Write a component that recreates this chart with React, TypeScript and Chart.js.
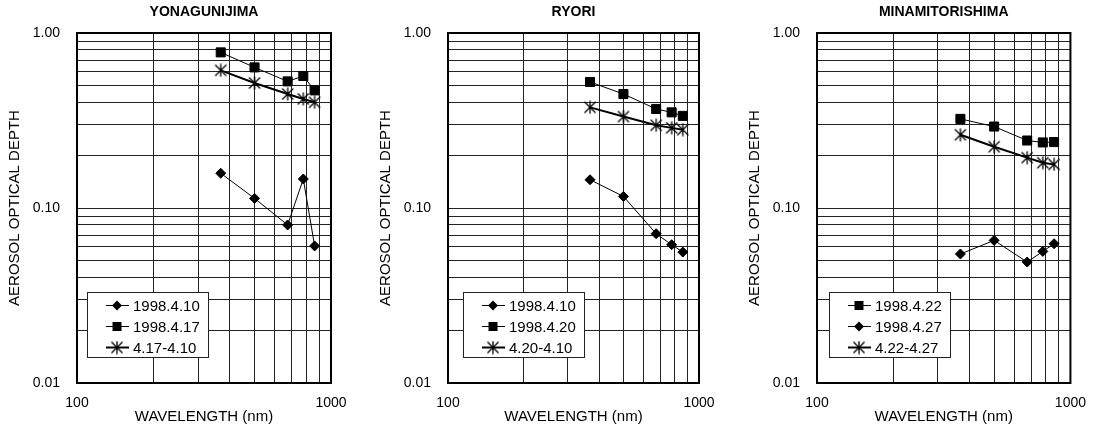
import React, { useEffect, useRef } from 'react';
import { Chart, registerables } from 'chart.js';
Chart.register(...registerables);

// ---- data ----
const wavelengths = [368, 500, 675, 778, 862];

const yonaguniTitle = 'YONAGUNIJIMA';
const yonaguni_0410 = [0.158, 0.1135, 0.08, 0.1465, 0.0607];
const yonaguni_0417 = [0.775, 0.636, 0.529, 0.568, 0.47];
const yonaguni_diff = [0.612, 0.518, 0.448, 0.42, 0.402];

const ryoriTitle = 'RYORI';
const ryori_0410 = [0.145, 0.1165, 0.0713, 0.0617, 0.056];
const ryori_0420 = [0.525, 0.448, 0.368, 0.352, 0.336];
const ryori_diff = [0.376, 0.333, 0.297, 0.287, 0.28];

const minamiTitle = 'MINAMITORISHIMA';
const minami_0422 = [0.323, 0.292, 0.243, 0.237, 0.238];
const minami_0427 = [0.0546, 0.0653, 0.0491, 0.0565, 0.0625];
const minami_diff = [0.262, 0.224, 0.194, 0.1815, 0.1775];

const xTickValues = [100, 200, 300, 400, 500, 600, 700, 800, 900, 1000];
const xTickLabels = ['100', '1000'];
const yTickValues = [
  0.01, 0.02, 0.03, 0.04, 0.05, 0.06, 0.07, 0.08, 0.09,
  0.1, 0.2, 0.3, 0.4, 0.5, 0.6, 0.7, 0.8, 0.9, 1,
];
const yTickLabels = ['0.01', '0.10', '1.00'];

const xTitle = 'WAVELENGTH (nm)';
const yTitle = 'AEROSOL OPTICAL DEPTH';

const FONT = '"Liberation Sans", Arial, sans-serif';

type Kind = 'diamond' | 'square' | 'star';
interface Series { label: string; values: number[]; kind: Kind }
interface PanelCfg {
  title: string;
  series: Series[];
  left: number;
  width: number;
  rightPad: number;
  legendOffset: number;
}

const panels: PanelCfg[] = [
  {
    title: yonaguniTitle,
    series: [
      { label: '1998.4.10', values: yonaguni_0410, kind: 'diamond' },
      { label: '1998.4.17', values: yonaguni_0417, kind: 'square' },
      { label: '4.17-4.10', values: yonaguni_diff, kind: 'star' },
    ],
    left: 0, width: 366, rightPad: 35, legendOffset: 10,
  },
  {
    title: ryoriTitle,
    series: [
      { label: '1998.4.10', values: ryori_0410, kind: 'diamond' },
      { label: '1998.4.20', values: ryori_0420, kind: 'square' },
      { label: '4.20-4.10', values: ryori_diff, kind: 'star' },
    ],
    left: 371, width: 366, rightPad: 38, legendOffset: 15,
  },
  {
    title: minamiTitle,
    series: [
      { label: '1998.4.22', values: minami_0422, kind: 'square' },
      { label: '1998.4.27', values: minami_0427, kind: 'diamond' },
      { label: '4.22-4.27', values: minami_diff, kind: 'star' },
    ],
    left: 740, width: 358, rightPad: 27, legendOffset: 12,
  },
];

function makeStar(size: number, lw: number): HTMLCanvasElement {
  const c = document.createElement('canvas');
  c.width = size;
  c.height = size;
  const g = c.getContext('2d')!;
  g.strokeStyle = '#000';
  g.lineWidth = lw;
  const m = size / 2;
  const r = size / 2 - 0.5;
  const d = r * 0.85;
  g.beginPath();
  g.moveTo(m, m - r);
  g.lineTo(m, m + r);
  g.moveTo(m - d, m - d);
  g.lineTo(m + d, m + d);
  g.moveTo(m + d, m - d);
  g.lineTo(m - d, m + d);
  g.stroke();
  return c;
}

const isDecade = (v: number) => {
  const e = Math.log10(v);
  return Math.abs(e - Math.round(e)) < 1e-6;
};

const framePlugin = {
  id: 'panelFrame',
  afterDraw(chart: any, _args: any, opts: any) {
    const { ctx, chartArea: ca } = chart;
    ctx.save();
    ctx.strokeStyle = '#000';
    ctx.lineWidth = 2;
    ctx.strokeRect(ca.left, ca.top, ca.right - ca.left, ca.bottom - ca.top);

    const bx = Math.round(ca.left + opts.offset);
    const by = Math.round(ca.top + 259);
    const bw = 121;
    const bh = 65;
    ctx.fillStyle = '#fff';
    ctx.fillRect(bx, by, bw, bh);
    ctx.lineWidth = 1;
    ctx.strokeStyle = '#222';
    ctx.strokeRect(bx + 0.5, by + 0.5, bw, bh);

    chart.data.datasets.forEach((ds: any, i: number) => {
      const cy = by + 13.5 + 21 * i;
      ctx.strokeStyle = '#000';
      ctx.lineWidth = ds.borderWidth;
      ctx.beginPath();
      ctx.moveTo(bx + 19, cy);
      ctx.lineTo(bx + 42, cy);
      ctx.stroke();
      const mx = bx + 30;
      ctx.fillStyle = '#000';
      const kind: Kind = ds.kindName;
      if (kind === 'square') {
        ctx.fillRect(mx - 4.5, cy - 4.5, 9, 9);
      } else if (kind === 'diamond') {
        ctx.beginPath();
        ctx.moveTo(mx, cy - 5);
        ctx.lineTo(mx + 5, cy);
        ctx.lineTo(mx, cy + 5);
        ctx.lineTo(mx - 5, cy);
        ctx.closePath();
        ctx.fill();
      } else {
        const img = ds.pointStyle as HTMLCanvasElement;
        ctx.drawImage(img, mx - img.width / 2, cy - img.height / 2);
      }
      ctx.fillStyle = '#000';
      ctx.font = `15px ${FONT}`;
      ctx.textBaseline = 'middle';
      ctx.textAlign = 'left';
      ctx.fillText(ds.label, bx + 46, cy + 1);
    });
    ctx.restore();
  },
};

function Panel({ cfg }: { cfg: PanelCfg }) {
  const ref = useRef<HTMLCanvasElement>(null);
  useEffect(() => {
    const star = makeStar(14, 1.3);
    const datasets = cfg.series.map((s) => ({
      label: s.label,
      kindName: s.kind,
      data: wavelengths.map((w, i) => ({ x: w, y: s.values[i] })),
      borderColor: '#000',
      backgroundColor: '#000',
      borderWidth: s.kind === 'star' ? 2 : 1,
      pointStyle: s.kind === 'star' ? star : s.kind === 'square' ? 'rect' : 'rectRot',
      pointRadius: s.kind === 'square' ? 6.4 : s.kind === 'diamond' ? 5 : 7,
      pointBorderWidth: s.kind === 'star' ? 0 : 1,
      pointBorderColor: '#000',
      pointBackgroundColor: '#000',
      tension: 0,
      fill: false,
    }));
    const gridColor = '#222';
    const chart = new Chart(ref.current!, {
      type: 'line',
      data: { datasets } as any,
      options: {
        animation: false,
        responsive: false,
        maintainAspectRatio: false,
        layout: { padding: { left: 0, right: cfg.rightPad, top: 0, bottom: 0 } },
        plugins: {
          legend: { display: false },
          tooltip: { enabled: false },
          title: {
            display: true,
            text: cfg.title,
            fullSize: false,
            color: '#000',
            font: { family: FONT, size: 14, weight: 'bold', lineHeight: 1.2 },
            padding: { top: 4, bottom: 12.2 },
          },
          panelFrame: { offset: cfg.legendOffset },
        } as any,
        scales: {
          x: {
            type: 'logarithmic',
            position: 'bottom',
            min: 100,
            max: 1000,
            afterBuildTicks: (scale: any) => {
              scale.ticks = xTickValues.map((v) => ({ value: v }));
            },
            afterFit: (scale: any) => {
              scale.height = 45;
            },
            grid: { color: gridColor, lineWidth: 1, drawTicks: false },
            border: { display: false },
            ticks: {
              autoSkip: false,
              maxRotation: 0,
              padding: 12,
              color: '#000',
              font: { family: FONT, size: 14 },
              callback: (v: any) => {
                const s = String(Math.round(Number(v)));
                return isDecade(Number(v)) && xTickLabels.includes(s) ? s : '';
              },
            },
            title: {
              display: true,
              text: xTitle,
              color: '#000',
              font: { family: FONT, size: 15, lineHeight: 1.2 },
              padding: { top: 0, bottom: 2 },
            },
          },
          y: {
            type: 'logarithmic',
            position: 'left',
            min: 0.01,
            max: 1,
            afterBuildTicks: (scale: any) => {
              scale.ticks = yTickValues.map((v) => ({ value: v }));
            },
            afterFit: (scale: any) => {
              scale.width = 77;
            },
            grid: { color: gridColor, lineWidth: 1, drawTicks: false },
            border: { display: false },
            ticks: {
              autoSkip: false,
              padding: 17,
              color: '#000',
              font: { family: FONT, size: 14 },
              callback: (v: any) => {
                const s = Number(v).toFixed(2);
                return isDecade(Number(v)) && yTickLabels.includes(s) ? s : '';
              },
            },
            title: {
              display: true,
              text: yTitle,
              color: '#000',
              font: { family: FONT, size: 15, lineHeight: 1.2 },
              padding: { top: 6, bottom: 0 },
            },
          },
        },
      } as any,
      plugins: [framePlugin],
    });
    return () => chart.destroy();
  }, [cfg]);
  return (
    <canvas
      ref={ref}
      width={cfg.width}
      height={428}
      style={{ position: 'absolute', left: cfg.left, top: 0, width: cfg.width, height: 428 }}
    />
  );
}

export default function App() {
  return (
    <div
      style={{
        position: 'absolute',
        left: 0,
        top: 0,
        width: 1098,
        height: 428,
        background: '#fff',
        overflow: 'hidden',
      }}
    >
      {panels.map((p) => (
        <Panel key={p.title} cfg={p} />
      ))}
    </div>
  );
}
